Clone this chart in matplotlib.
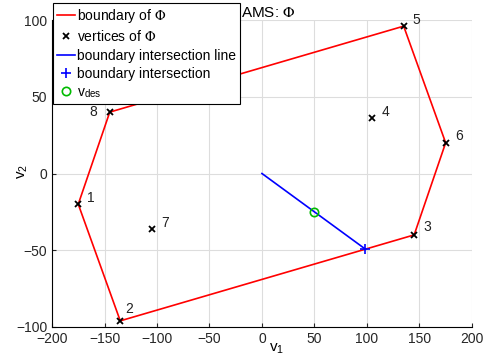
import matplotlib.pyplot as plt
import numpy as np

plt.rcParams['font.family'] = ['Liberation Sans', 'DejaVu Sans']
plt.rcParams['mathtext.fontset'] = 'stix'

# vertices of Phi (numbered 1..8)
vert_x = [-175, -135, 145, 105, 135, 175, -105, -145]
vert_y = [-20, -96, -40, 36, 96, 20, -36, 40]
# boundary order (1-based vertex ids)
boundary_ids = [1, 2, 3, 6, 5, 8, 1]

line_x = [0, 98.6]
line_y = [0, -49.3]
vdes = (50, -25)

# label offsets in pixels (dx right, dy up)
label_off = [(13, 6), (9, 12), (13, 8), (13, 6), (13, 6), (13, 7), (13, 6), (-17, 0)]

fig = plt.figure(figsize=(4.88, 3.58), dpi=100)
ax = fig.add_axes([0.1066, 0.0866, 0.8604, 0.8575])

bx = [vert_x[i - 1] for i in boundary_ids]
by = [vert_y[i - 1] for i in boundary_ids]
ax.plot(bx, by, color='red', lw=1.2, label=r'boundary of $\Phi$')
ax.plot(vert_x, vert_y, 'kx', ms=4.5, mew=1.3, ls='none', label=r'vertices of $\Phi$')
ax.plot(line_x, line_y, color='blue', lw=1.2, label='boundary intersection line')
ax.plot(line_x[1], line_y[1], '+', color='blue', ms=7, mew=1.2, label='boundary intersection')
ax.plot(vdes[0], vdes[1], 'o', mfc='none', mec='#00bb00', ms=6, mew=1.2,
        label=r'v$_{\mathregular{des}}$')

for i, (x, y) in enumerate(zip(vert_x, vert_y)):
    dx, dy = label_off[i]
    ax.annotate(str(i + 1), (x, y), xytext=(dx * 0.72, dy * 0.72),
                textcoords='offset points', ha='center', va='center',
                fontsize=10, color='#222222')

ax.set_xlim(-200, 200)
ax.set_ylim(-100, 100)
ax.set_xticks(np.arange(-200, 201, 50))
ax.set_yticks(np.arange(-100, 101, 50))
ax.grid(True, color='#dddddd', lw=0.8)
ax.set_axisbelow(True)
for s in ['top', 'right']:
    ax.spines[s].set_visible(False)
ax.tick_params(direction='in', length=3, labelsize=10, colors='#262626')
ax.set_xlabel(r'v$_{\mathregular{1}}$', fontsize=11)
ax.xaxis.set_label_coords(0.535, -0.05)
ax.set_ylabel(r'v$_{\mathregular{2}}$', fontsize=11)
ax.yaxis.set_label_coords(-0.052, 0.508)
ax.set_title(r'AMS: $\Phi$', fontsize=11, x=0.515, pad=1)

leg = ax.legend(loc='upper left', bbox_to_anchor=(0.1086, 0.9916),
                bbox_transform=fig.transFigure, fontsize=10, frameon=True,
                fancybox=False, edgecolor='black', framealpha=1,
                borderaxespad=0, handlelength=1.3, handletextpad=0.15,
                labelspacing=0.3, borderpad=0.3)
leg.get_frame().set_linewidth(0.8)

fig.savefig('out.png', dpi=100)
